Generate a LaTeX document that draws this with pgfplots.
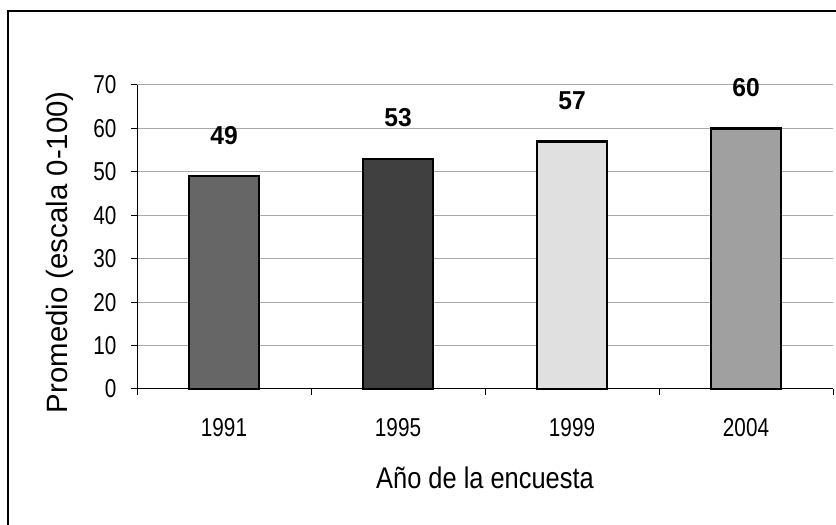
\documentclass[border=0pt]{standalone}
\usepackage{pgfplots}
\pgfplotsset{compat=1.18}
\usepackage{fontspec}
\setmainfont{Liberation Sans}
\definecolor{gridc}{HTML}{A8A8A8}
\definecolor{cA}{HTML}{666666}
\definecolor{cB}{HTML}{404040}
\definecolor{cC}{HTML}{E0E0E0}
\definecolor{cD}{HTML}{A0A0A0}
\newfontfamily\tickfont[FakeStretch=0.8]{Liberation Sans}
\newfontfamily\labfont[FakeStretch=0.85]{Liberation Sans}
\newfontfamily\valfont[FakeStretch=0.95]{Liberation Sans}
\begin{document}
\begin{tikzpicture}[x=1bp,y=1bp]
\path[use as bounding box] (0,0) rectangle (836,525);
\begin{scope}
\clip (0,0) rectangle (836,525);
\draw[line width=2.5bp] (8,-20) -- (8,514) -- (860,514);
\end{scope}
\begin{axis}[
  at={(137bp,136bp)}, anchor=south west,
  scale only axis, width=696bp, height=304bp,
  xmin=-0.5, xmax=3.5, ymin=0, ymax=70,
  axis x line*=bottom, axis y line*=left,
  axis line style={line width=1bp, -},
  xtick={-0.5,0.5,1.5,2.5,3.5}, xticklabels={},
  extra x ticks={0,1,2,3},
  extra x tick labels={1991,1995,1999,2004},
  extra x tick style={major tick length=0pt, grid=none,
     tick label style={anchor=center, yshift=-39bp}},
  ytick={0,10,...,70},
  tick align=outside, major tick length=6bp,
  tick style={line width=1bp, black},
  ymajorgrids, grid style={gridc, line width=1bp},
  /pgf/number format/assume math mode=true,
  tick label style={font=\tickfont\fontsize{26}{30}\selectfont},
  yticklabel style={anchor=east, xshift=-11bp},
  xlabel={Año de la encuesta},
  ylabel={Promedio (escala 0-100)},
  xlabel style={font=\labfont\fontsize{30}{34}\selectfont, at={(axis description cs:0.5,0)}, anchor=center, yshift=-89bp},
  ylabel style={font=\fontsize{29.5}{32}\selectfont, at={(axis description cs:0,0.45)}, anchor=center, yshift=77bp},
  ybar, bar width=0.4, bar shift=0pt,
  nodes near coords,
  every node near coord/.append style={font=\valfont\bfseries\fontsize{26}{30}\selectfont, anchor=center, yshift=41bp},
  clip=false,
]
\addplot[fill=cA, draw=black, line width=2.5bp] coordinates {(0,49)};
\addplot[fill=cB, draw=black, line width=2.5bp] coordinates {(1,53)};
\addplot[fill=cC, draw=black, line width=2.5bp] coordinates {(2,57)};
\addplot[fill=cD, draw=black, line width=2.5bp] coordinates {(3,60)};
\end{axis}
\end{tikzpicture}
\end{document}
